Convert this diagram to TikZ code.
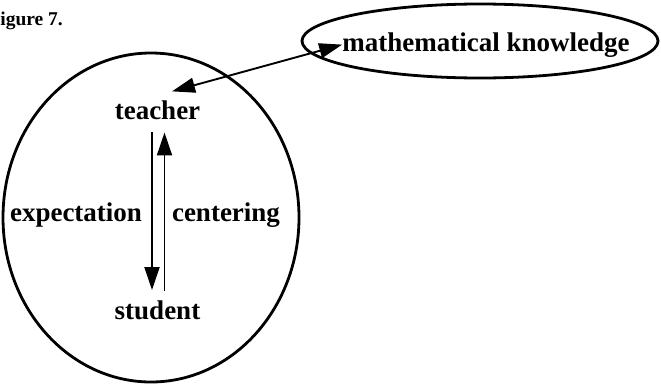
\documentclass[tikz,border=0pt]{standalone}
\usepackage{fontspec}
\setmainfont{Liberation Serif}
\usetikzlibrary{arrows.meta}
\tikzset{
  lbl/.style={inner sep=0pt, anchor=base, font=\bfseries\fontsize{27}{30}\selectfont},
  ring/.style={line width=2.8pt},
  conn/.style={line width=1.9pt, -{Triangle[length=23pt,width=15pt]}},
  bconn/.style={line width=1.9pt, {Triangle[length=23pt,width=15pt]}-{Triangle[length=23pt,width=15pt]}},
}
\begin{document}
\begin{tikzpicture}[x=1pt,y=-1pt]
\useasboundingbox (0,0) rectangle (661,383);
% caption (as printed, first letter cut off in the reference)
\node[inner sep=0pt, anchor=base east, font=\bfseries\fontsize{19.5}{22}\selectfont] (fig) at (63,25) {igure 7.};
% ellipses
\draw[ring] (151,217.5) ellipse [x radius=148, y radius=164.5];
\draw[ring] (480,41) ellipse [x radius=178, y radius=37];
% labels
\node[lbl] (math) at (486,51) {mathematical knowledge};
\node[lbl] (teacher) at (157.5,119) {teacher};
\node[lbl] (student) at (157.5,319) {student};
\node[lbl] (expect) at (76,221) {expectation};
\node[lbl] (center) at (226,221) {centering};
% connectors
\draw[bconn] ([shift={(14.5,-8.7)}]teacher.north) -- (math.west);
\draw[conn] ([shift={(-5.5,13)}]teacher.south) -- ([shift={(-5.5,-10)}]student.north);
\draw[conn] ([shift={(7,-9)}]student.north) -- ([shift={(7,13)}]teacher.south);
\end{tikzpicture}
\end{document}
